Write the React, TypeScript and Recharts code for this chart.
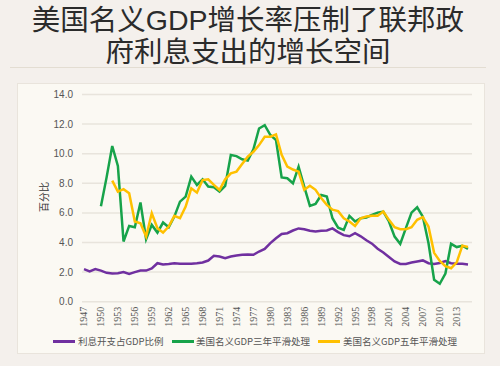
import React from 'react';
import { LineChart, Line, XAxis, YAxis, CartesianGrid } from 'recharts';

const years = [
  1947, 1948, 1949, 1950, 1951, 1952, 1953, 1954, 1955, 1956,
  1957, 1958, 1959, 1960, 1961, 1962, 1963, 1964, 1965, 1966,
  1967, 1968, 1969, 1970, 1971, 1972, 1973, 1974, 1975, 1976,
  1977, 1978, 1979, 1980, 1981, 1982, 1983, 1984, 1985, 1986,
  1987, 1988, 1989, 1990, 1991, 1992, 1993, 1994, 1995, 1996,
  1997, 1998, 1999, 2000, 2001, 2002, 2003, 2004, 2005, 2006,
  2007, 2008, 2009, 2010, 2011, 2012, 2013, 2014, 2015,
];

const interestPct = [
  2.2, 2.05, 2.2, 2.1, 1.95, 1.9, 1.92, 2.0, 1.88, 2.0,
  2.1, 2.1, 2.25, 2.6, 2.52, 2.55, 2.6, 2.56, 2.56, 2.56,
  2.6, 2.65, 2.78, 3.1, 3.05, 2.94, 3.05, 3.12, 3.17, 3.19,
  3.17, 3.39, 3.57, 3.96, 4.29, 4.58, 4.63, 4.81, 4.95, 4.9,
  4.79, 4.74, 4.79, 4.81, 4.95, 4.7, 4.5, 4.42, 4.63, 4.42,
  4.15, 3.92, 3.58, 3.33, 3.02, 2.72, 2.55, 2.55, 2.65, 2.72,
  2.79, 2.6, 2.55, 2.62, 2.74, 2.6, 2.56, 2.56, 2.52,
];

const gdp3yr = [
  null, null, null, 6.45, 8.4, 10.52, 9.17, 4.07, 5.12, 5.03,
  6.7, 4.22, 5.19, 4.67, 5.35, 5.03, 5.75, 6.76, 7.1, 8.45,
  7.89, 8.27, 7.78, 7.73, 7.44, 7.82, 9.91, 9.84, 9.62, 9.53,
  10.3, 11.7, 11.93, 11.26, 10.92, 8.4, 8.34, 8.0, 9.12, 7.78,
  6.47, 6.61, 7.21, 7.1, 5.64, 5.0, 4.85, 5.8, 5.42, 5.64,
  5.69, 5.87, 6.02, 6.09, 5.42, 4.4, 3.91, 4.97, 6.02, 6.38,
  5.75, 3.96, 1.48, 1.21, 1.9, 3.91, 3.69, 3.78, 3.57,
];

const gdp5yr = [
  null, null, null, null, null, 8.18, 7.44, 7.6, 7.33, 5.42,
  5.3, 4.4, 5.98, 4.97, 4.67, 5.08, 5.8, 5.64, 6.43, 7.66,
  7.37, 8.22, 8.27, 7.89, 7.55, 8.27, 8.67, 8.79, 9.3, 9.8,
  10.13, 10.58, 11.15, 11.15, 11.3, 9.92, 9.13, 8.93, 8.79, 7.56,
  7.83, 7.56, 7.0, 6.54, 6.22, 6.12, 5.64, 5.42, 5.12, 5.64,
  5.75, 5.8, 5.8, 6.09, 5.53, 5.03, 4.9, 4.9, 5.03, 5.53,
  5.71, 5.08, 3.3, 2.75, 2.4, 2.26, 2.66, 3.79, 3.7,
];

const yTicks = [0, 2, 4, 6, 8, 10, 12, 14];

const seriesKeys = ['interest', 'gdp3', 'gdp5'];
const seriesNames = ['利息开支占GDP比例', '美国名义GDP三年平滑处理', '美国名义GDP五年平滑处理'];
const seriesColors = ['#7030a0', '#17a34a', '#ffc000'];

const titleLines = ['美国名义GDP增长率压制了联邦政', '府利息支出的增长空间'];
const yAxisTitle = '百分比';

const data = years.map((year, i) => ({
  year,
  interest: interestPct[i],
  gdp3: gdp3yr[i],
  gdp5: gdp5yr[i],
}));

const XTick = (props: any) => {
  const { x, y, payload } = props;
  return (
    <text
      x={x}
      y={y}
      transform={`rotate(-90 ${x} ${y})`}
      textAnchor="end"
      dominantBaseline="central"
      fontSize={10}
      fontFamily="'Liberation Serif', serif"
      fill="#555"
    >
      {payload.value}
    </text>
  );
};

const legendPos = [
  { sx: 53, tx: 78 },
  { sx: 172, tx: 196 },
  { sx: 318, tx: 343 },
];

export default function App() {
  return (
    <div
      style={{
        position: 'absolute',
        left: 0,
        top: 0,
        width: 500,
        height: 366,
        overflow: 'hidden',
        background: '#f4f0ec',
        fontFamily: "'Noto Sans CJK SC', 'Noto Sans', sans-serif",
      }}
    >
      <div
        style={{
          position: 'absolute',
          left: 0,
          width: 496,
          top: 3.5,
          lineHeight: '32px',
          textAlign: 'center',
          fontSize: 28.5,
          color: '#2b2b2b',
          whiteSpace: 'nowrap',
          fontFamily: "'Liberation Sans', 'Noto Sans CJK SC', sans-serif",
        }}
      >
        {titleLines[0]}
        <br />
        {titleLines[1]}
      </div>
      <div
        style={{
          position: 'absolute',
          left: 10,
          top: 67,
          width: 476,
          height: 1,
          background: '#e3ddd2',
        }}
      />
      <div
        style={{
          position: 'absolute',
          left: 17,
          top: 83,
          width: 466,
          height: 269,
          background: '#fbf9f3',
          border: '1px solid #e9e4dc',
        }}
      />
      <div style={{ position: 'absolute', left: 0, top: 0 }}>
        <LineChart
          width={500}
          height={366}
          data={data}
          margin={{ top: 94.5, right: 28, bottom: 34.3, left: 32 }}
        >
          <CartesianGrid vertical={false} stroke="#e8e4dc" strokeWidth={1.5} />
          <XAxis
            dataKey="year"
            interval={2}
            height={30}
            axisLine={false}
            tickLine={false}
            tickSize={0}
            tickMargin={5}
            padding={{ left: 2, right: 4 }}
            tick={<XTick />}
          />
          <YAxis
            domain={[0, 14]}
            ticks={yTicks}
            width={50}
            axisLine={false}
            tickLine={false}
            tickSize={0}
            tickMargin={9}
            tickFormatter={(v: number) => v.toFixed(1)}
            tick={{ fontSize: 10, fill: '#555', fontFamily: "'Liberation Sans', sans-serif" }}
          />
          {seriesKeys.map((k, i) => (
            <Line
              key={k}
              dataKey={k}
              name={seriesNames[i]}
              stroke={seriesColors[i]}
              strokeWidth={2.5}
              dot={false}
              type="linear"
              isAnimationActive={false}
            />
          ))}
        </LineChart>
      </div>
      <div
        style={{
          position: 'absolute',
          left: 44 - 30,
          top: 197 - 8,
          width: 60,
          height: 16,
          lineHeight: '16px',
          textAlign: 'center',
          fontSize: 10,
          color: '#333',
          transform: 'rotate(-90deg)',
        }}
      >
        {yAxisTitle}
      </div>
      {seriesNames.map((n, i) => (
        <React.Fragment key={n}>
          <div
            style={{
              position: 'absolute',
              left: legendPos[i].sx,
              top: 340,
              width: 22,
              height: 2.5,
              background: seriesColors[i],
            }}
          />
          <div
            style={{
              position: 'absolute',
              left: legendPos[i].tx,
              top: 333,
              height: 16,
              lineHeight: '16px',
              fontSize: 9.5,
              color: '#555',
              whiteSpace: 'nowrap',
            }}
          >
            {n}
          </div>
        </React.Fragment>
      ))}
    </div>
  );
}
